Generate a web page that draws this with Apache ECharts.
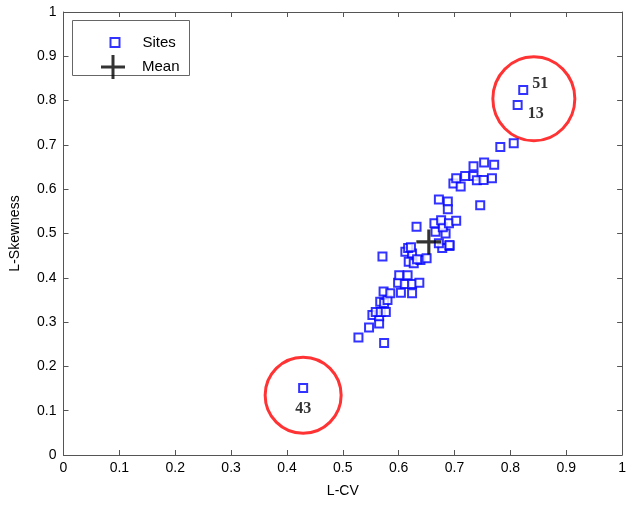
<!DOCTYPE html>
<html><head><meta charset="utf-8">
<script src="https://cdn.jsdelivr.net/npm/echarts@6/dist/echarts.min.js"></script>
<style>html,body{margin:0;padding:0;background:#fff}#c{width:629px;height:506px}</style>
</head><body><div id="c"></div>
<script>
// L-CV values of sites
const siteLCV = [0.429,
 0.528,0.547,0.565,0.574,0.553,0.565,0.559,0.568,0.577,0.567,0.574,0.580,0.573,0.585,0.571,
 0.599,0.611,0.624,0.637,0.604,0.624,0.601,0.616,0.612,0.624,0.618,0.627,0.639,0.633,0.650,0.617,0.622,0.632,0.678,0.691,0.672,0.691,
 0.666,0.684,0.679,0.664,0.676,0.690,0.703,0.672,0.688,0.688,0.746,
 0.698,0.711,0.703,0.719,0.734,0.740,0.752,0.767,0.734,0.753,0.771,0.782,0.806,0.813,0.823];
// L-Skewness values of sites
const siteLSkew = [0.151,
 0.265,0.288,0.297,0.253,0.316,0.313,0.323,0.323,0.323,0.346,0.343,0.350,0.369,0.365,0.448,
 0.389,0.386,0.386,0.389,0.366,0.365,0.406,0.406,0.459,0.455,0.436,0.433,0.440,0.442,0.444,0.467,0.469,0.515,0.467,0.472,0.478,0.474,
 0.504,0.500,0.514,0.523,0.530,0.523,0.529,0.577,0.572,0.555,0.564,
 0.613,0.606,0.625,0.630,0.630,0.620,0.621,0.625,0.652,0.660,0.655,0.695,0.704,0.790,0.824];
// labelled sites: id and index in arrays above
const labelIds = ['43','13','51'];
const labelIdx = [0, 62, 63];
const meanPoint = [0.654, 0.481];
// highlight circles (data-space centers)
const circleCenters = [[0.429, 0.135], [0.842, 0.804]];
const ticks = [0,0.1,0.2,0.3,0.4,0.5,0.6,0.7,0.8,0.9,1];

const labelPos = {'43':{position:'bottom',distance:8,offset:[0,0]},
                  '13':{position:'right',distance:5,offset:[0,9]},
                  '51':{position:'right',distance:4,offset:[0,-6]}};

const siteData = siteLCV.map((x,i)=>{
  const k = labelIdx.indexOf(i);
  if (k<0) return [x, siteLSkew[i]];
  const id = labelIds[k];
  return {value:[x, siteLSkew[i]], label:Object.assign({show:true, formatter:id,
    fontFamily:'Liberation Serif', fontWeight:'bold', fontSize:16, color:'#000'}, labelPos[id])};
});

const plus = 'path://M10.5,0h3v24h-3z M0,10.5h24v3h-24z';
const fmt = v => (Math.abs(v)<1e-9?'0':(Math.abs(v-1)<1e-9?'1':v.toFixed(1)));
const axisCommon = {min:0,max:1,interval:0.1,
  axisLine:{show:true,onZero:false,lineStyle:{color:'#555',width:1}},
  axisTick:{show:true,inside:true,length:5,lineStyle:{color:'#555'}},
  splitLine:{show:false}};

const chart = echarts.init(document.getElementById('c'),null,{renderer:'canvas'});
chart.setOption({
  animation:false,
  backgroundColor:'#fff',
  grid:{left:63.5,right:2.5,top:12,bottom:51,containLabel:false},
  xAxis:[
    Object.assign({type:'value',position:'bottom',name:'L-CV',nameLocation:'middle',nameGap:29,
      nameTextStyle:{fontFamily:'Liberation Sans',fontSize:14,color:'#000'},
      axisLabel:{formatter:fmt,fontFamily:'Liberation Sans',fontSize:14,color:'#000',margin:6}},axisCommon),
    Object.assign({type:'value',position:'top',axisLabel:{show:false}},axisCommon)
  ],
  yAxis:[
    Object.assign({type:'value',position:'left',name:'L-Skewness',nameLocation:'middle',nameGap:41,
      nameTextStyle:{fontFamily:'Liberation Sans',fontSize:14,color:'#000'},
      axisLabel:{formatter:fmt,fontFamily:'Liberation Sans',fontSize:14,color:'#000',margin:7}},axisCommon),
    Object.assign({type:'value',position:'right',axisLabel:{show:false}},axisCommon)
  ],
  legend:[
    {data:[{name:'Sites',icon:'rect',itemStyle:{color:'#fff',borderColor:'#0000ff',borderWidth:2}}],
     left:104.5,top:30,itemWidth:9,itemHeight:9,itemGap:0,
     textStyle:{fontFamily:'Liberation Sans',fontSize:15,color:'#000',padding:[0,0,0,18]}},
    {data:[{name:'Mean',icon:plus,itemStyle:{color:'#000'}}],
     left:96,top:50,itemWidth:24,itemHeight:24,itemGap:0,
     textStyle:{fontFamily:'Liberation Sans',fontSize:15,color:'#000',padding:[0,0,0,12]}}
  ],
  graphic:[{type:'rect',shape:{x:72.5,y:20.5,width:117,height:55},
    style:{fill:'#fff',stroke:'#666',lineWidth:1},z:-1,silent:true}],
  series:[
    {name:'Sites',type:'scatter',data:siteData,symbol:'rect',symbolSize:8,
     itemStyle:{color:'#fff',borderColor:'#0000ff',borderWidth:2},z:3},
    {name:'Mean',type:'scatter',data:[meanPoint],symbol:plus,symbolSize:25,
     itemStyle:{color:'#000'},z:4},
    {name:'Highlight',type:'scatter',data:[{value:circleCenters[0],symbolSize:[76,76]},{value:circleCenters[1],symbolSize:[82,84]}],
     symbol:'circle',itemStyle:{color:'rgba(0,0,0,0)',borderColor:'#ff0000',borderWidth:3},z:2,silent:true}
  ]
});
</script></body></html>
